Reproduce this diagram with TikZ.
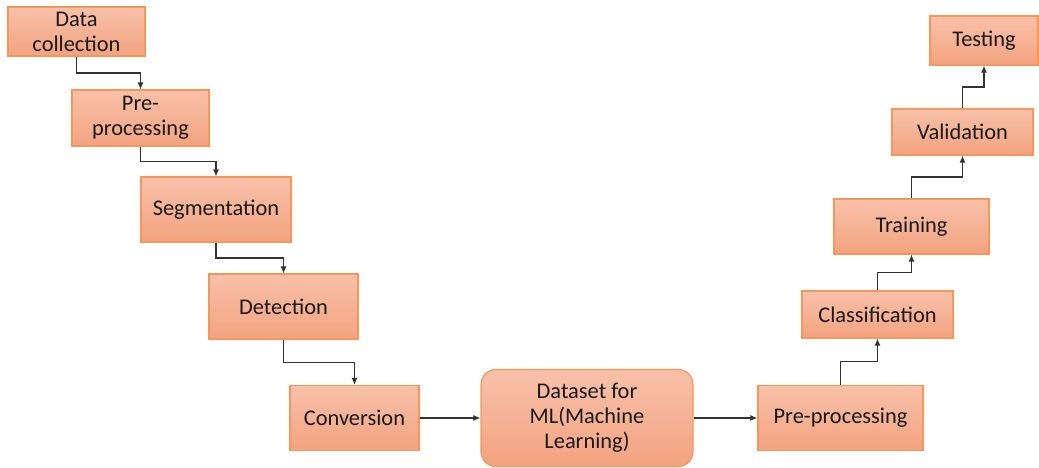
\documentclass[tikz,border=0pt]{standalone}
\usepackage{fontspec}
\setmainfont{Carlito}
\usetikzlibrary{arrows.meta, calc}

\definecolor{stagetop}{RGB}{248,193,170}
\definecolor{stagebot}{RGB}{243,163,127}
\definecolor{stageline}{RGB}{246,150,88}

\tikzset{
  stage/.style = {draw=stageline, line width=0.6pt, top color=stagetop, bottom color=stagebot,
    align=center, inner sep=0pt, text=black!90, font=\fontsize{11.2pt}{12.5pt}\selectfont},
  link/.style = {draw=black!80, line width=0.55pt, -{Latex[length=3.5pt,width=3pt]}}
}

\begin{document}
\begin{tikzpicture}[x=0.5pt, y=-0.5pt]
\useasboundingbox (0,0) rectangle (1039,467);

% left branch, going down
\node[stage, minimum width=68.5pt, minimum height=24.5pt] (dc) at (76.5,31.5) {Data\\collection};
\node[stage, minimum width=68.5pt, minimum height=28pt] (pp1) at (140.5,118) {Pre-\\processing};
\node[stage, minimum width=75pt, minimum height=32.5pt] (seg) at (216,209.5) {Segmentation};
\node[stage, minimum width=74.5pt, minimum height=32.5pt] (det) at (283.5,306.5) {Detection};
\node[stage, minimum width=64.5pt, minimum height=32.5pt] (conv) at (354.5,418) {Conversion};

% dataset in the middle
\node[stage, rounded corners=7.5pt, minimum width=106pt, minimum height=48.5pt] (ds) at (587,418) {Dataset for\\ML(Machine\\Learning)};

% right branch, going up
\node[stage, minimum width=82.5pt, minimum height=32.5pt] (pp2) at (840.5,418) {Pre-processing};
\node[stage, minimum width=75.5pt, minimum height=23.5pt] (cls) at (877.5,314.5) {Classification};
\node[stage, minimum width=77.5pt, minimum height=27.5pt] (trn) at (911.5,226.5) {Training};
\node[stage, minimum width=70.5pt, minimum height=23pt] (val) at (962.5,132) {Validation};
\node[stage, minimum width=54pt, minimum height=24.5pt] (tst) at (984,40.5) {Testing};

\draw[link] (dc.south) |- ($(dc.south)!.5!(pp1.north)$) -| (pp1.north);
\draw[link] (pp1.south) |- ($(pp1.south)!.5!(seg.north)$) -| (seg.north);
\draw[link] (seg.south) |- ($(seg.south)!.5!(det.north)$) -| (det.north);
\draw[link] (det.south) |- ($(det.south)!.5!(conv.north)$) -| (conv.north);

\draw[link] (conv.east) -- (ds.west);
\draw[link] (ds.east) -- (pp2.west);

\draw[link] (pp2.north) |- ($(pp2.north)!.5!(cls.south)$) -| (cls.south);
\draw[link] (cls.north) |- ($(cls.north)!.5!(trn.south)$) -| (trn.south);
\draw[link] (trn.north) |- ($(trn.north)!.5!(val.south)$) -| (val.south);
\draw[link] (val.north) |- ($(val.north)!.5!(tst.south)$) -| (tst.south);
\end{tikzpicture}
\end{document}
